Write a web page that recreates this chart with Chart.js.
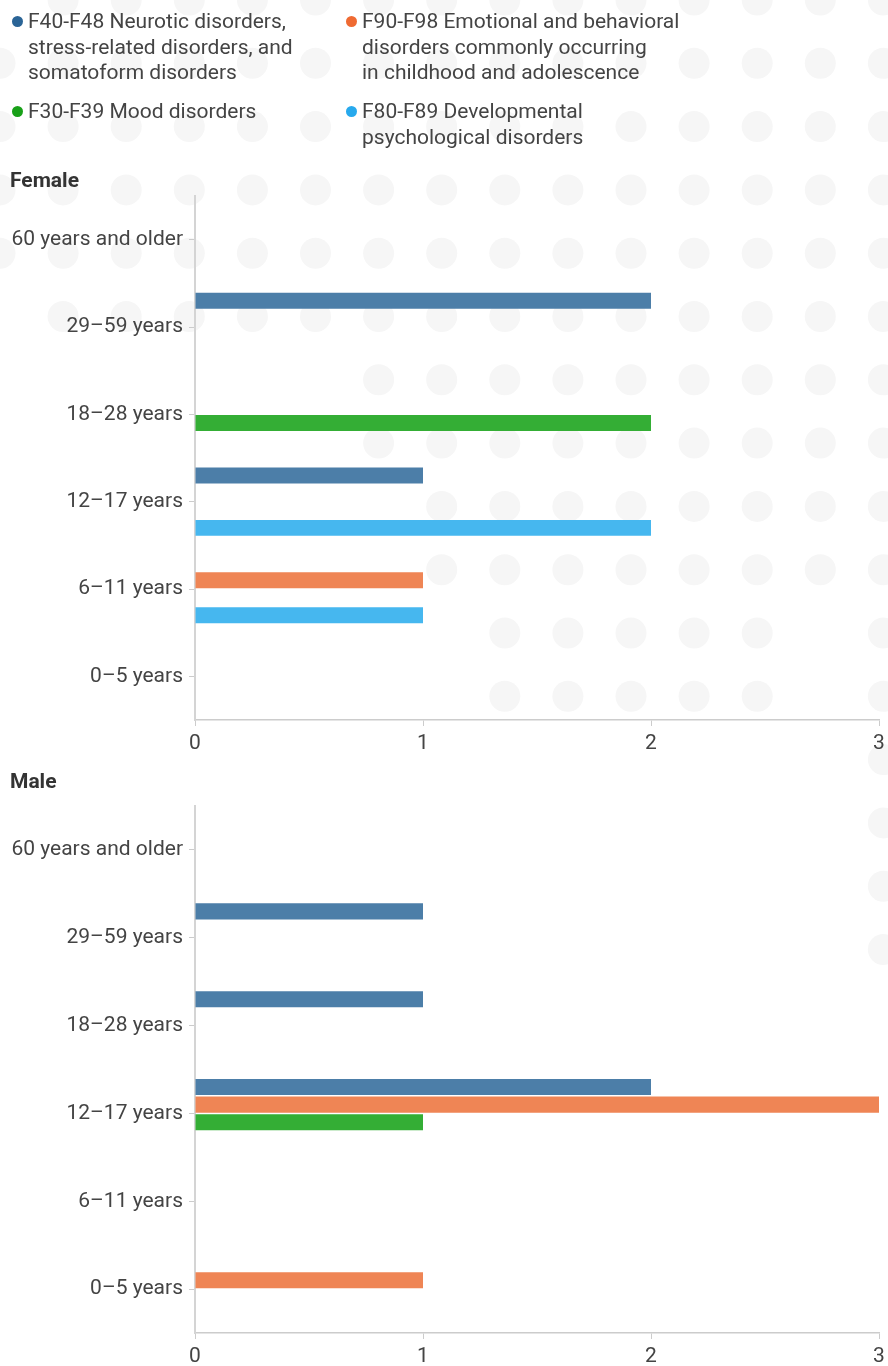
<!DOCTYPE html>
<html lang="en">
<head>
    <meta charset="UTF-8">
    <meta name="viewport" content="width=device-width, initial-scale=1.0">
    <title>Mental disorders by age group and sex</title>
    <script src="https://cdn.jsdelivr.net/npm/chart.js"></script>
    <style>
        body { margin: 0; background: #fff; font-family: Roboto, "Noto Sans", sans-serif; color: #444; }
        #page { position: relative; width: 888px; height: 1366px; overflow: hidden; }
        #dots { position: absolute; left: 0; top: 0; }
        .legend-item { position: absolute; font-size: 21px; line-height: 25.5px; color: #444; white-space: nowrap; }
        .legend-item .dot { position: absolute; width: 11px; height: 11px; border-radius: 50%; left: -16px; top: 7px; }
        .panel-title { position: absolute; left: 10px; font-size: 21px; font-weight: bold; color: #333; }
        .chart-box { position: absolute; left: 0; width: 888px; }
    </style>
</head>
<body>
<div id="page">
    <canvas id="dots" width="888" height="1366"></canvas>

    <div class="legend-item" style="left:28px; top:9px;"><span class="dot" style="background:#2a6496"></span>F40-F48 Neurotic disorders,<br>stress-related disorders, and<br>somatoform disorders</div>
    <div class="legend-item" style="left:362px; top:9px;"><span class="dot" style="background:#ef6a32"></span>F90-F98 Emotional and behavioral<br>disorders commonly occurring<br>in childhood and adolescence</div>
    <div class="legend-item" style="left:28px; top:99px;"><span class="dot" style="background:#18a018"></span>F30-F39 Mood disorders</div>
    <div class="legend-item" style="left:362px; top:99px;"><span class="dot" style="background:#27a9ed"></span>F80-F89 Developmental<br>psychological disorders</div>

    <div class="panel-title" style="top:168px;">Female</div>
    <div class="chart-box" style="top:190px; height:570px;"><canvas id="female" width="888" height="570"></canvas></div>

    <div class="panel-title" style="top:769px;">Male</div>
    <div class="chart-box" style="top:800px; height:566px;"><canvas id="male" width="888" height="566"></canvas></div>
</div>

<script>
    // age groups, top to bottom
    const ageGroups = ['60 years and older', '29–59 years', '18–28 years', '12–17 years', '6–11 years', '0–5 years'];

    const seriesNames = [
        'F40-F48 Neurotic disorders, stress-related disorders, and somatoform disorders',
        'F90-F98 Emotional and behavioral disorders commonly occurring in childhood and adolescence',
        'F30-F39 Mood disorders',
        'F80-F89 Developmental psychological disorders'
    ];
    const seriesColors = ['#4c7ea8', '#ef8555', '#34ae35', '#46b7ef'];

    // case counts per age group
    const femaleNeurotic      = [0, 2, 0, 1, 0, 0];
    const femaleEmotional     = [0, 0, 0, 0, 1, 0];
    const femaleMood          = [0, 0, 2, 0, 0, 0];
    const femaleDevelopmental = [0, 0, 0, 2, 1, 0];

    const maleNeurotic      = [0, 1, 1, 2, 0, 0];
    const maleEmotional     = [0, 0, 0, 3, 0, 1];
    const maleMood          = [0, 0, 0, 1, 0, 0];
    const maleDevelopmental = [0, 0, 0, 0, 0, 0];

    const xTicks = [0, 1, 2, 3];

    // light dotted backdrop: for each row, the column ranges that carry a dot
    function drawBackdrop() {
        const ctx = document.getElementById('dots').getContext('2d');
        const pitchX = 63.1, pitchY = 63.3, r = 15.5;
        const rows = [
            [[1, 14]], [[0, 14]], [[0, 14]], [[0, 14]], [[0, 14]], [[1, 14]],
            [[6, 14]], [[6, 14]], [[7, 14]], [[7, 14]],
            [[8, 12], [14, 14]], [[8, 12], [14, 14]],
            [[14, 14]], [[14, 14]], [[14, 14]], [[14, 14]]
        ];
        ctx.fillStyle = '#f6f6f6';
        rows.forEach((spans, j) => {
            spans.forEach(([a, b]) => {
                for (let i = a; i <= b; i++) {
                    ctx.beginPath();
                    ctx.arc(i * pitchX, j * pitchY, r, 0, Math.PI * 2);
                    ctx.fill();
                }
            });
        });
    }

    function makeChart(id, values, axisHeight) {
        const ctx = document.getElementById(id).getContext('2d');
        return new Chart(ctx, {
            type: 'bar',
            data: {
                labels: ageGroups,
                datasets: values.map((data, i) => ({
                    label: seriesNames[i],
                    data: data,
                    backgroundColor: seriesColors[i],
                    borderWidth: 0,
                    categoryPercentage: 0.8,
                    barPercentage: 0.915
                }))
            },
            options: {
                indexAxis: 'y',
                responsive: false,
                animation: false,
                layout: { padding: { top: 6, right: 9, left: 0, bottom: 0 } },
                plugins: { legend: { display: false }, tooltip: { enabled: false } },
                scales: {
                    x: {
                        min: xTicks[0],
                        max: xTicks[xTicks.length - 1],
                        afterBuildTicks: (scale) => { scale.ticks = xTicks.map(v => ({ value: v })); },
                        afterFit: (scale) => {
                            scale.height = axisHeight;
                            // the last tick label may hang over the right edge
                            scale.paddingLeft = 0;
                            scale.paddingRight = 0;
                        },
                        grid: { drawOnChartArea: false, tickLength: 6, tickColor: '#cccccc' },
                        border: { color: '#cccccc', width: 1.5 },
                        ticks: { color: '#444', padding: 5, font: { family: 'Roboto', size: 21 } }
                    },
                    y: {
                        afterFit: (scale) => {
                            scale.width = 195;
                            // keep the plot top at the layout padding
                            scale.paddingTop = 0;
                            scale.paddingBottom = 0;
                        },
                        grid: { drawOnChartArea: false, offset: false, tickLength: 6, tickColor: '#cccccc' },
                        border: { color: '#d4d4d4', width: 2 },
                        ticks: { color: '#444', padding: 6, font: { family: 'Roboto', size: 21 } }
                    }
                }
            }
        });
    }

    drawBackdrop();
    makeChart('female', [femaleNeurotic, femaleEmotional, femaleMood, femaleDevelopmental], 40);
    makeChart('male', [maleNeurotic, maleEmotional, maleMood, maleDevelopmental], 33);
</script>
</body>
</html>
